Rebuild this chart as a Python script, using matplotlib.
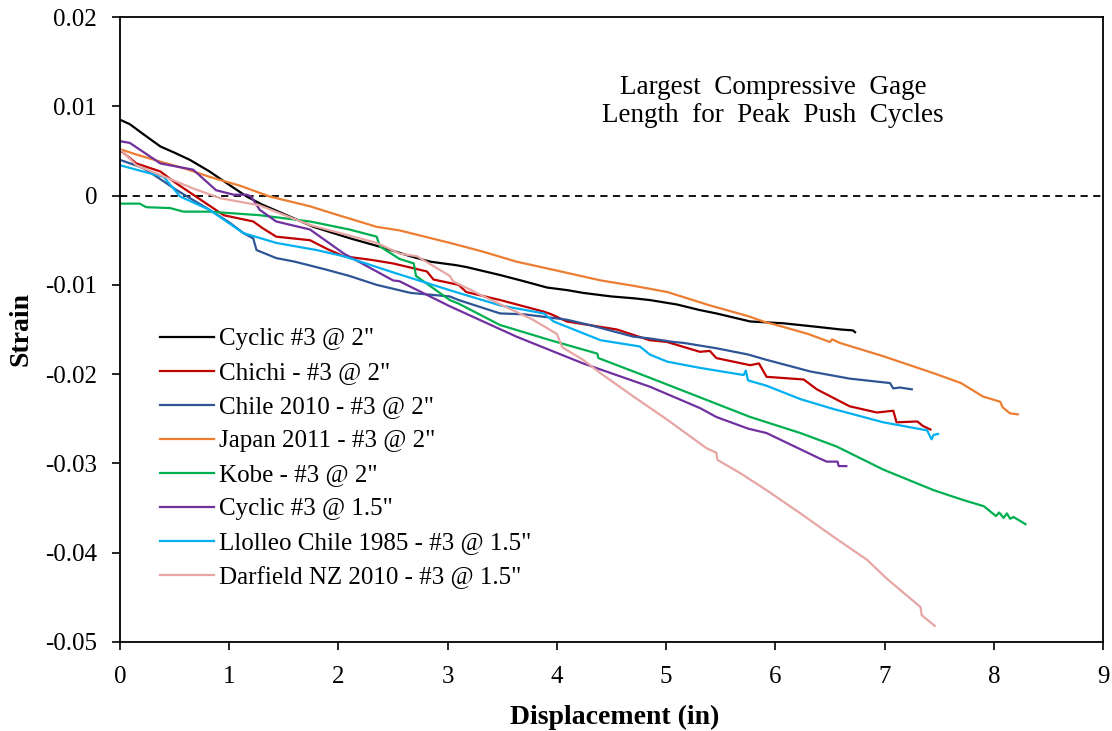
import numpy as np
import matplotlib.pyplot as plt

plt.rcParams['font.family'] = ['Liberation Serif', 'DejaVu Serif']

# Cyclic #3 @ 2"
cyc2_x = [0, 0.09, 0.2, 0.37, 0.5, 0.64, 0.82, 1.0, 1.16, 1.3, 1.49, 1.77, 2.11, 2.4, 2.66, 2.84,
          3.08, 3.17, 3.48, 3.7, 3.91, 4.1, 4.24, 4.5, 4.70, 4.85, 5.10, 5.3, 5.46, 5.77, 6.07,
          6.38, 6.6, 6.71, 6.73]
cyc2_y = [0.0085, 0.0080, 0.0070, 0.0055, 0.0048, 0.0040, 0.0027, 0.0012, -0.0001, -0.0010,
          -0.0020, -0.0035, -0.0048, -0.0058, -0.0068, -0.0074, -0.0078, -0.0080, -0.0089,
          -0.0096, -0.0103, -0.0106, -0.0109, -0.0113, -0.0115, -0.0117, -0.0122, -0.0128,
          -0.0132, -0.0141, -0.0143, -0.0147, -0.0150, -0.0151, -0.0153]

# Chichi - #3 @ 2"
chichi_x = [0, 0.15, 0.37, 0.5, 0.67, 0.95, 1.22, 1.3, 1.43, 1.74, 1.9, 2.05, 2.3, 2.50, 2.81,
            2.87, 3.10, 3.17, 3.48, 3.88, 3.95, 4.09, 4.55, 4.85, 5.01, 5.31, 5.40, 5.46, 5.77,
            5.85, 5.92, 6.26, 6.38, 6.68, 6.93, 7.08, 7.11, 7.30, 7.35, 7.42]
chichi_y = [0.0051, 0.0036, 0.0027, 0.0015, 0.0001, -0.0022, -0.0029, -0.0036, -0.0046, -0.0050,
            -0.0060, -0.0068, -0.0072, -0.0076, -0.0085, -0.0094, -0.0100, -0.0108, -0.0117,
            -0.0130, -0.0133, -0.0141, -0.0150, -0.0162, -0.0164, -0.0175, -0.0174, -0.0182,
            -0.0190, -0.0188, -0.0203, -0.0206, -0.0217, -0.0236, -0.0243, -0.0241, -0.0254,
            -0.0253, -0.0258, -0.0262]

# Chile 2010 - #3 @ 2"
chile_x = [0, 0.21, 0.35, 0.52, 0.82, 1.0, 1.13, 1.22, 1.25, 1.43, 1.6, 1.89, 2.1, 2.35, 2.66,
           3.02, 3.10, 3.48, 3.7, 4.09, 4.3, 4.70, 4.85, 5.07, 5.16, 5.46, 5.75, 5.92, 6.32,
           6.68, 7.05, 7.08, 7.14, 7.25]
chile_y = [0.0040, 0.0031, 0.0020, 0.0006, -0.0016, -0.0030, -0.0042, -0.0048, -0.0061, -0.0070,
           -0.0074, -0.0083, -0.0090, -0.0100, -0.0109, -0.0113, -0.0117, -0.0132, -0.0133,
           -0.0139, -0.0145, -0.0158, -0.0160, -0.0164, -0.0165, -0.0171, -0.0178, -0.0184,
           -0.0197, -0.0205, -0.0210, -0.0216, -0.0215, -0.0217]

# Japan 2011 - #3 @ 2"
japan_x = [0, 0.15, 0.37, 0.6, 0.82, 1.1, 1.37, 1.74, 2.0, 2.35, 2.56, 3.02, 3.3, 3.63, 4.0, 4.40,
           4.7, 5.01, 5.40, 5.75, 5.89, 6.07, 6.3, 6.50, 6.52, 6.59, 6.99, 7.45, 7.7, 7.90, 8.06,
           8.08, 8.15, 8.22]
japan_y = [0.0052, 0.0046, 0.0038, 0.0030, 0.0021, 0.0011, -0.0001, -0.0012, -0.0022, -0.0035,
           -0.0039, -0.0053, -0.0062, -0.0074, -0.0084, -0.0095, -0.0101, -0.0108, -0.0123,
           -0.0135, -0.0141, -0.0147, -0.0155, -0.0164, -0.0161, -0.0165, -0.0180, -0.0199,
           -0.0210, -0.0225, -0.0231, -0.0237, -0.0244, -0.0245]

# Kobe - #3 @ 2"
kobe_x = [0, 0.18, 0.24, 0.46, 0.58, 0.82, 1.28, 1.74, 2.1, 2.35, 2.38, 2.56, 2.69, 2.71, 3.02,
          3.10, 3.48, 3.94, 4.37, 4.38, 4.85, 5.31, 5.77, 6.23, 6.56, 6.99, 7.45, 7.72, 7.91,
          8.02, 8.05, 8.09, 8.12, 8.15, 8.18, 8.29]
kobe_y = [-0.0009, -0.0009, -0.0013, -0.0014, -0.0018, -0.0018, -0.0022, -0.0029, -0.0038,
          -0.0046, -0.0057, -0.0071, -0.0076, -0.0090, -0.0117, -0.0121, -0.0145, -0.0162,
          -0.0177, -0.0182, -0.0204, -0.0226, -0.0248, -0.0266, -0.0281, -0.0307, -0.0330,
          -0.0341, -0.0348, -0.0359, -0.0355, -0.0361, -0.0356, -0.0362, -0.0360, -0.0368]

# Cyclic #3 @ 1.5"
cyc15_x = [0, 0.09, 0.37, 0.67, 0.88, 1.04, 1.16, 1.2, 1.28, 1.43, 1.74, 2.05, 2.50, 2.56, 3.02,
           3.63, 4.24, 4.85, 5.31, 5.46, 5.75, 5.92, 6.38, 6.47, 6.57, 6.58, 6.65]
cyc15_y = [0.0061, 0.0059, 0.0036, 0.0029, 0.0006, 0.0001, 0.0001, -0.0001, -0.0016, -0.0029,
           -0.0038, -0.0065, -0.0095, -0.0096, -0.0124, -0.0158, -0.0188, -0.0214, -0.0238,
           -0.0248, -0.0261, -0.0266, -0.0293, -0.0298, -0.0298, -0.0303, -0.0303]

# Llolleo Chile 1985 - #3 @ 1.5"
llolleo_x = [0, 0.21, 0.40, 0.55, 0.82, 1.13, 1.43, 1.8, 2.05, 2.5, 3.02, 3.10, 3.48, 3.88, 3.97,
             4.40, 4.76, 4.85, 5.01, 5.31, 5.71, 5.73, 5.75, 5.92, 6.23, 6.53, 6.99, 7.39, 7.43,
             7.45, 7.49]
llolleo_y = [0.0034, 0.0027, 0.0021, -0.0001, -0.0016, -0.0042, -0.0053, -0.0061, -0.0068,
             -0.0086, -0.0106, -0.0109, -0.0123, -0.0132, -0.0141, -0.0162, -0.0169, -0.0178,
             -0.0186, -0.0193, -0.0201, -0.0196, -0.0207, -0.0213, -0.0228, -0.0239, -0.0254,
             -0.0263, -0.0273, -0.0268, -0.0267]

# Darfield NZ 2010 - #3 @ 1.5"
darf_x = [0, 0.15, 0.37, 0.67, 0.92, 1.28, 1.74, 2.35, 2.56, 2.72, 3.02, 3.05, 3.33, 3.78, 4.0,
          4.05, 4.24, 4.40, 4.70, 5.01, 5.37, 5.46, 5.47, 5.68, 5.92, 6.23, 6.53, 6.84, 7.02,
          7.33, 7.34, 7.46]
darf_y = [0.0052, 0.0034, 0.0023, 0.0008, -0.0003, -0.0011, -0.0033, -0.0053, -0.0065, -0.0068,
          -0.0090, -0.0096, -0.0113, -0.0139, -0.0155, -0.0170, -0.0184, -0.0199, -0.0225,
          -0.0251, -0.0283, -0.0288, -0.0296, -0.0311, -0.0330, -0.0356, -0.0382, -0.0408,
          -0.0429, -0.0461, -0.0470, -0.0482]

series = [
    (cyc2_x, cyc2_y, '#000000', 'Cyclic #3 @ 2"'),
    (chichi_x, chichi_y, '#C00000', 'Chichi - #3 @ 2"'),
    (chile_x, chile_y, '#2F5597', 'Chile 2010 - #3 @ 2"'),
    (japan_x, japan_y, '#ED7D31', 'Japan 2011 - #3 @ 2"'),
    (kobe_x, kobe_y, '#00B050', 'Kobe - #3 @ 2"'),
    (cyc15_x, cyc15_y, '#7030A0', 'Cyclic #3 @ 1.5"'),
    (llolleo_x, llolleo_y, '#00B0F0', 'Llolleo Chile 1985 - #3 @ 1.5"'),
    (darf_x, darf_y, '#E6A6A3', 'Darfield NZ 2010 - #3 @ 1.5"'),
]

fig = plt.figure(figsize=(11.12, 7.31), dpi=100)
ax = fig.add_axes([0.1079, 0.1218, 0.8840, 0.8549])

ax.axhline(0, color='black', linestyle=(0, (4, 3)), linewidth=1.3, zorder=1)

for xs, ys, c, lab in series:
    ax.plot(xs, ys, color=c, linewidth=1.6, label=lab)

ax.set_xlim(0, 9)
ax.set_ylim(-0.05, 0.02)
ax.set_xticks(range(0, 10))
ax.set_yticks([0.02, 0.01, 0, -0.01, -0.02, -0.03, -0.04, -0.05])
ax.set_yticklabels(['0.02', '0.01', '0', '-0.01', '-0.02', '-0.03', '-0.04', '-0.05'])
ax.tick_params(axis='both', direction='out', length=5.5, width=1.2, labelsize=18)
ax.tick_params(axis='y', pad=11)
ax.tick_params(axis='x', pad=12)
for s in ax.spines.values():
    s.set_linewidth(1.3)

ax.set_xlabel('Displacement (in)', fontsize=20, fontweight='bold')
ax.set_ylabel('Strain', fontsize=20, fontweight='bold')
ax.xaxis.set_label_coords(0.503, -0.101)
ax.yaxis.set_label_coords(-0.0875, 0.5)

ax.text(5.98, 0.0105, 'Largest  Compressive  Gage\nLength  for  Peak  Push  Cycles',
        ha='center', va='center', fontsize=19.5, linespacing=1.15)

ax.legend(loc='upper left', bbox_to_anchor=(0.028, 0.5225), frameon=False, fontsize=18,
          handlelength=2.15, handletextpad=0.2, labelspacing=0.46, borderpad=0)

fig.savefig('out.png', dpi=100)
